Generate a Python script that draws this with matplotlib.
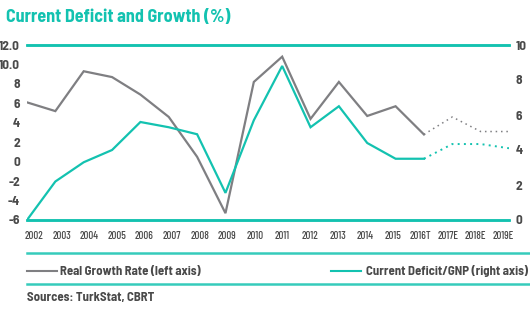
import numpy as np
import matplotlib
matplotlib.use("Agg")
import matplotlib.pyplot as plt
from matplotlib.lines import Line2D

plt.rcParams['font.family'] = ['Barlow Semi Condensed', 'DejaVu Sans']

years = ['2002', '2003', '2004', '2005', '2006', '2007', '2008', '2009', '2010',
         '2011', '2012', '2013', '2014', '2015', '2016T', '2017E', '2018E', '2019E']
growth = [6.1, 5.2, 9.3, 8.7, 6.9, 4.6, 0.5, -5.3, 8.2, 10.8, 4.4, 8.2, 4.7, 5.7,
          2.8, 4.6, 3.1, 3.1]
deficit = [0.0, 2.2, 3.3, 4.0, 5.6, 5.3, 4.9, 1.55, 5.7, 8.8, 5.3, 6.5, 4.4, 3.5,
           3.5, 4.34, 4.34, 4.1]
left_ticks = [-6, -4, -2, 0, 2, 4, 6, 8, 10, 12]
left_labels = ['-6', '-4', '-2', '0', '2', '4', '6', '8', '10.0', '12.0']
right_ticks = [0, 2, 4, 6, 8, 10]

TEAL = '#13c2b0'
GRAY = '#7f7f82'
TXT = '#4a4a4a'
n_act = 15  # actual values up to 2016T, estimates after

W, H = 530, 321
fig = plt.figure(figsize=(W / 100, H / 100), dpi=100)
ax = fig.add_axes([27 / W, 1 - 220 / H, (509 - 27) / W, 175 / H])
ax2 = ax.twinx()

x = np.arange(len(years))
ax.plot(x[:n_act], growth[:n_act], color=GRAY, lw=1.6, solid_joinstyle='miter')
ax.plot(x[n_act - 1:], growth[n_act - 1:], color=GRAY, lw=1.1, ls=(0, (1, 2.5)))
ax2.plot(x[:n_act], deficit[:n_act], color=TEAL, lw=1.6, solid_joinstyle='miter')
ax2.plot(x[n_act - 1:], deficit[n_act - 1:], color=TEAL, lw=1.4, ls=(0, (1, 2.2)))

ax.set_xlim(0, len(years) - 1)
ax.set_ylim(-6, 12)
ax2.set_ylim(0, 10)
ax.set_yticks(left_ticks)
ax.set_yticklabels(left_labels)
ax2.set_yticks(right_ticks)
ax.set_xticks(np.linspace(0.25, 16.8, len(years)))
ax.set_xticklabels(years, fontfamily=['Barlow Condensed', 'DejaVu Sans'])

for a in (ax, ax2):
    for s in ('left', 'right'):
        a.spines[s].set_visible(False)
    for s in ('top', 'bottom'):
        a.spines[s].set_color(TEAL)
        a.spines[s].set_linewidth(1.8)
    a.tick_params(length=0)
ax.tick_params(axis='y', pad=5, labelsize=9.5, labelcolor=TXT)
ax2.tick_params(axis='y', pad=5, labelsize=9.5, labelcolor=TXT)
ax.tick_params(axis='x', pad=8, labelsize=7.8, labelcolor=TXT)
for lab in ax.get_yticklabels() + ax2.get_yticklabels():
    lab.set_fontweight('bold')
for lab in ax.get_xticklabels():
    lab.set_fontweight('medium')

fig.text(6 / W, 1 - 17 / H, 'Current Deficit and Growth (%)', color=TEAL,
         fontsize=13, fontweight='bold', va='center', ha='left')

# legend strip with separator lines
for yy in (253, 284):
    fig.add_artist(Line2D([27 / W, 1], [1 - yy / H] * 2, color=TEAL, lw=1.8, alpha=0.85))
fig.add_artist(Line2D([27 / W, 57 / W], [1 - 271 / H] * 2, color=GRAY, lw=1.5))
fig.text(60 / W, 1 - 271 / H, 'Real Growth Rate (left axis)', color=TXT,
         fontsize=9.2, fontweight='bold', va='center', ha='left')
fig.add_artist(Line2D([331 / W, 361 / W], [1 - 271 / H] * 2, color=TEAL, lw=1.5))
fig.text(366 / W, 1 - 271 / H, 'Current Deficit/GNP (right axis)', color=TXT,
         fontsize=9.2, fontweight='bold', va='center', ha='left')
fig.text(27 / W, 1 - 298 / H, 'Sources: TurkStat, CBRT', color=TXT,
         fontsize=9.2, fontweight='bold', va='center', ha='left')

fig.savefig('out.png', dpi=100)
